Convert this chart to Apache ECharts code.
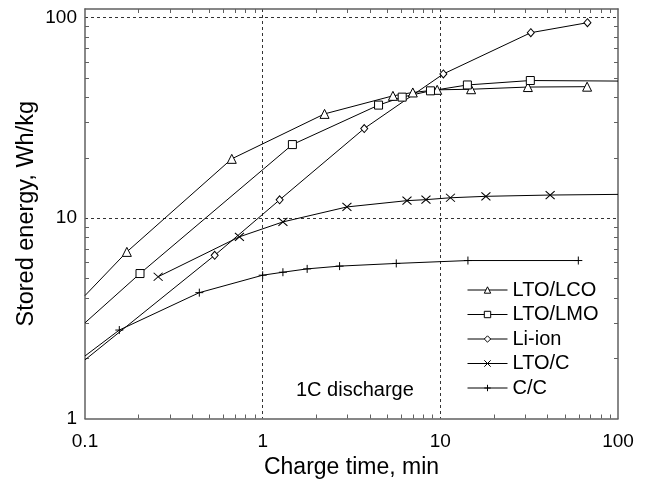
<!DOCTYPE html>
<html>
<head>
<meta charset="utf-8">
<script src="https://cdn.jsdelivr.net/npm/echarts@6/dist/echarts.min.js"></script>
<style>
html, body { margin: 0; padding: 0; background: #fff; }
#main { width: 648px; height: 490px; }
</style>
</head>
<body>
<div id="main"></div>
<script>
// series names, in legend order
var seriesNames = ['LTO/LCO', 'LTO/LMO', 'Li-ion', 'LTO/C', 'C/C'];

// charge time, min
var ltoLcoX = [0.1, 0.172, 0.67, 2.23, 5.41, 7.0, 9.6, 14.9, 31.1, 67];
var ltoLmoX = [0.1, 0.204, 1.47, 4.49, 6.1, 8.8, 14.2, 32.1, 100];
var liIonX  = [0.1, 0.537, 1.246, 3.73, 10.4, 32.3, 67.3];
var ltoCX   = [0.258, 0.74, 1.30, 2.98, 6.49, 8.3, 11.4, 18.05, 41.5, 100];
var ccX     = [0.1, 0.156, 0.44, 1.0, 1.30, 1.78, 2.71, 5.65, 14.3, 59.8];

// stored energy, Wh/kg
var ltoLcoY = [4.1, 6.77, 19.7, 33.0, 40.6, 42.2, 43.5, 43.8, 44.9, 45.1];
var ltoLmoY = [3.0, 5.28, 23.2, 36.5, 40.0, 43.0, 46.0, 48.4, 48.1];
var liIonY  = [1.96, 6.51, 12.3, 27.9, 52.2, 83.8, 94.0];
var ltoCY   = [5.09, 8.05, 9.55, 11.34, 12.19, 12.33, 12.6, 12.81, 13.0, 13.1];
var ccY     = [2.05, 2.76, 4.24, 5.18, 5.36, 5.57, 5.75, 5.93, 6.13, 6.13];

var xTicks = [0.1, 1, 10, 100];
var yTicks = [1, 10, 100];

var FONT = 'Liberation Sans, Arial, sans-serif';
var FRAME = '#606060';

// points lying on the frame edge (x = 0.1 or x = 100) carry no marker
function pairs(xs, ys) {
    return xs.map(function (x, i) {
        var p = { value: [x, ys[i]] };
        if (x <= 0.1 || x >= 100) p.symbol = 'none';
        return p;
    });
}

function makeSeries(name, xs, ys, symbol, size) {
    return {
        name: name,
        type: 'line',
        data: pairs(xs, ys),
        symbol: symbol,
        symbolSize: size,
        showSymbol: true,
        lineStyle: { color: '#000', width: 1 },
        itemStyle: { color: '#fff', borderColor: '#000', borderWidth: 1 },
        emphasis: { disabled: true }
    };
}

var chart = echarts.init(document.getElementById('main'));

function logAxisBase(extra) {
    var a = {
        type: 'log',
        logBase: 10,
        axisLine: { show: true, lineStyle: { color: FRAME, width: 1.5 } },
        axisTick: { show: false },
        splitLine: { show: false },
        axisLabel: { show: false }
    };
    for (var k in extra) a[k] = extra[k];
    return a;
}

function tickFormatter(list) {
    return function (v) {
        for (var i = 0; i < list.length; i++) {
            if (Math.abs(v - list[i]) < list[i] * 1e-6) return String(list[i]);
        }
        return '';
    };
}

option = {
    animation: false,
    title: {
        text: '1C discharge',
        left: 296,
        top: 380,
        padding: 0,
        textStyle: { fontSize: 20, fontFamily: FONT, fontWeight: 'normal', color: '#000' }
    },
    grid: { left: 85, right: 30, top: 9, bottom: 71.5 },
    legend: {
        orient: 'vertical',
        left: 467,
        top: 280,
        padding: 0,
        itemWidth: 40,
        itemHeight: 8,
        itemGap: 4.5,
        itemStyle: { color: '#fff', borderColor: '#000', borderWidth: 1 },
        lineStyle: { color: '#000', width: 1 },
        textStyle: { fontSize: 20, fontFamily: FONT, color: '#000' },
        data: seriesNames
    },
    xAxis: [
        logAxisBase({
            min: 0.1, max: 100,
            position: 'bottom',
            name: 'Charge time, min',
            nameLocation: 'middle',
            nameGap: 33,
            nameTextStyle: { fontSize: 23, fontFamily: FONT, color: '#000' },
            axisLabel: {
                show: true, fontSize: 19, fontFamily: FONT, color: '#000', margin: 14,
                formatter: tickFormatter(xTicks)
            },
            splitLine: {
                show: true, showMinLine: false, showMaxLine: false,
                lineStyle: { color: '#333', width: 1, type: [3, 3] }
            }
        }),
        logAxisBase({ min: 0.1, max: 100, position: 'top' })
    ],
    yAxis: [
        logAxisBase({
            min: 1, max: 110,
            position: 'left',
            name: 'Stored energy, Wh/kg',
            nameLocation: 'middle',
            nameGap: 46,
            nameMoveOverlap: false,
            nameTextStyle: { fontSize: 23.5, fontFamily: FONT, color: '#000' },
            axisLabel: {
                show: true, fontSize: 19, fontFamily: FONT, color: '#000', margin: 8,
                formatter: tickFormatter(yTicks)
            },
            splitLine: {
                show: true, showMinLine: false, showMaxLine: false,
                lineStyle: { color: '#333', width: 1, type: [3, 3] }
            }
        }),
        logAxisBase({ min: 1, max: 110, position: 'right' })
    ],
    series: [
        makeSeries(seriesNames[0], ltoLcoX, ltoLcoY, 'triangle', 9),
        makeSeries(seriesNames[1], ltoLmoX, ltoLmoY, 'rect', 8),
        makeSeries(seriesNames[2], liIonX, liIonY, 'diamond', [7, 8]),
        makeSeries(seriesNames[3], ltoCX, ltoCY, 'path://M0,0L8,8M8,0L0,8', [9, 8]),
        makeSeries(seriesNames[4], ccX, ccY, 'path://M4,0L4,8M0,4L8,4', 8)
    ]
};

chart.setOption(option);

// minor ticks (2..9 in each decade), inward on all four sides of the frame
var ticks = [];
var xL = chart.convertToPixel({ xAxisIndex: 0 }, 0.1);
var xR = chart.convertToPixel({ xAxisIndex: 0 }, 100);
var yB = chart.convertToPixel({ yAxisIndex: 0 }, 1);
var yT = chart.convertToPixel({ yAxisIndex: 0 }, 110);
var TL = 4;
function tick(x1, y1, x2, y2) {
    ticks.push({
        type: 'line', id: 'tick' + ticks.length, silent: true,
        shape: { x1: x1, y1: y1, x2: x2, y2: y2 },
        style: { stroke: FRAME, lineWidth: 1 }
    });
}
[0.1, 1, 10].forEach(function (d) {
    for (var k = 2; k <= 9; k++) {
        var px = Math.round(chart.convertToPixel({ xAxisIndex: 0 }, k * d)) + 0.5;
        tick(px, yB, px, yB - TL);
        tick(px, yT, px, yT + TL);
    }
});
[1, 10].forEach(function (d) {
    for (var k = 2; k <= 9; k++) {
        var py = Math.round(chart.convertToPixel({ yAxisIndex: 0 }, k * d)) + 0.5;
        tick(xL, py, xL + TL, py);
        tick(xR, py, xR - TL, py);
    }
});
chart.setOption({ graphic: ticks });
</script>
</body>
</html>
